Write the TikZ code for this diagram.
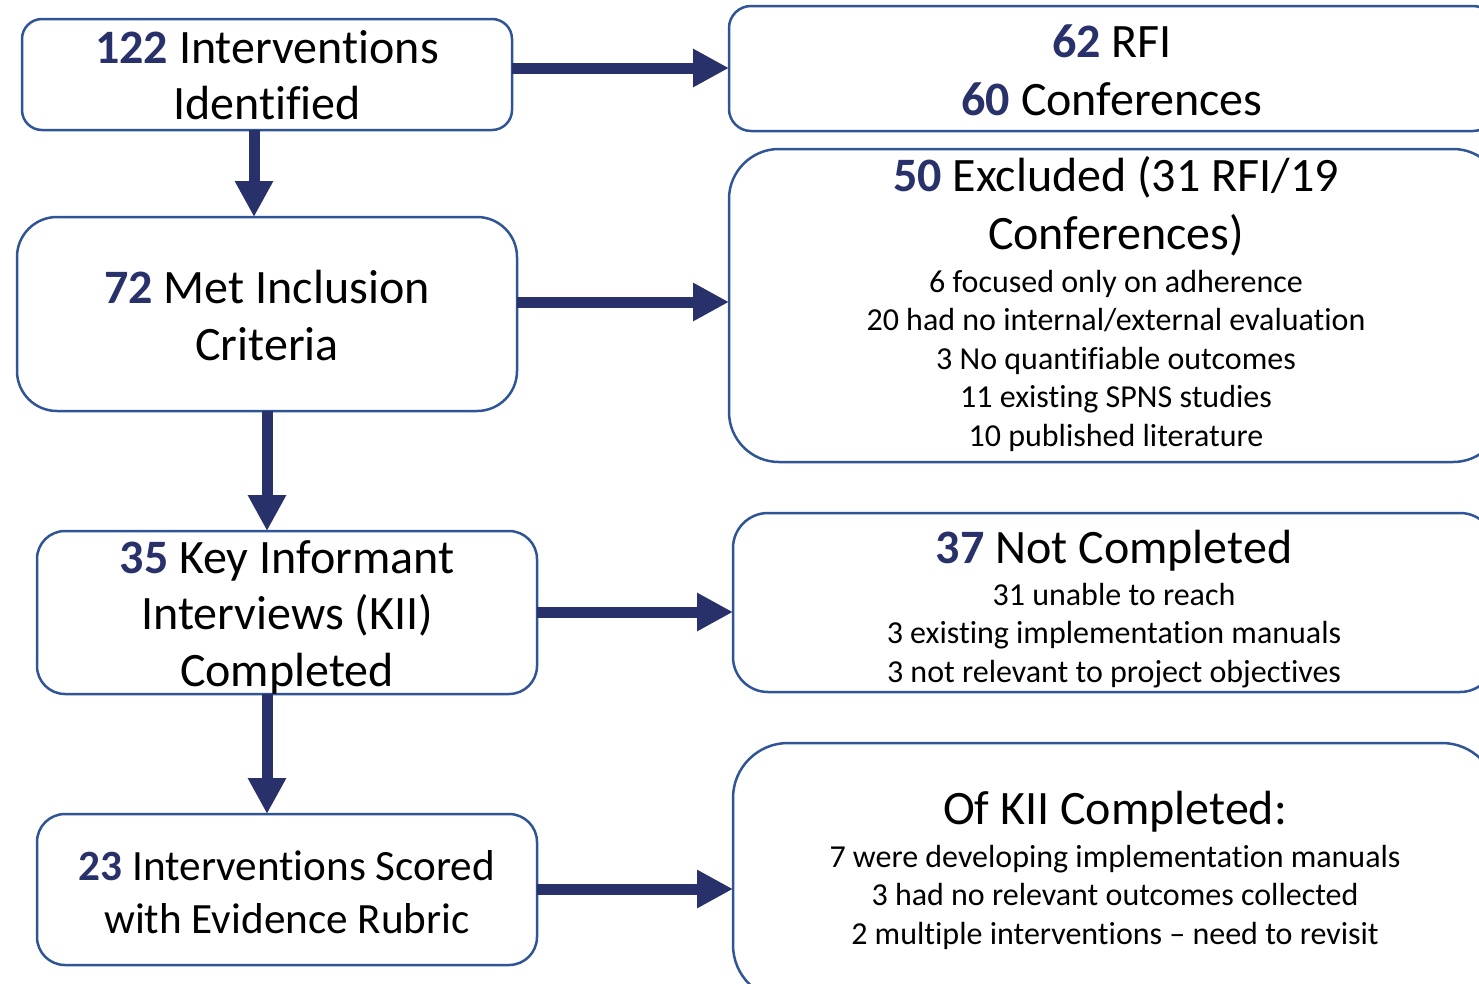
\documentclass[tikz,border=0pt]{standalone}
\usepackage{fontspec}
\setmainfont{Carlito}[Ligatures={TeX,NoCommon}]
\usetikzlibrary{arrows.meta}
\definecolor{boxblue}{HTML}{2F5597}
\definecolor{navy}{HTML}{283169}
\newcommand{\nm}[1]{\textbf{\textcolor{navy}{#1}}}
\newcommand{\bigf}{\fontsize{48}{56}\selectfont}
\newcommand{\smf}{\fontsize{32}{38.5}\selectfont}
\tikzset{
  box/.style={draw=boxblue, line width=2.5pt, fill=white, inner sep=0pt, outer sep=0pt, align=center, font=\bigf, text depth=0pt},
  arr/.style={draw=navy, line width=11pt, -{Triangle[width=36pt,length=36pt]}},
}
\begin{document}
\begin{tikzpicture}[x=1pt,y=-1pt]
\useasboundingbox (0,0) rectangle (1479,983);
\clip (0,0) rectangle (1479,983);
% left column
\node[box, rounded corners=20pt, minimum width=490pt, minimum height=111pt, text height=89pt] (b1) at (267,74.5)
  {\nm{122} Interventions\\Identified};
\node[box, rounded corners=40pt, minimum width=500pt, minimum height=194pt, text height=92pt] (b2) at (267,314)
  {\nm{72} Met Inclusion\\[1pt]Criteria};
\node[box, rounded corners=28pt, minimum width=500pt, minimum height=163pt, text height=147pt] (b3) at (287,612.5)
  {\nm{35} Key Informant\\Interviews (KII)\\[0.5pt]Completed};
\node[box, rounded corners=28pt, minimum width=500pt, minimum height=151pt, text height=88pt, font=\fontsize{43.2}{53}\selectfont] (b4) at (287,889.5)
  {\nm{23} Interventions Scored\\with Evidence Rubric};
% right column
\node[box, rounded corners=22pt, minimum width=766pt, minimum height=125pt, text height=93pt] (r1) at (1112,68.5)
  {\nm{62} RFI\\[2pt]\nm{60} Conferences};
\node[box, rounded corners=50pt, minimum width=774pt, minimum height=313pt, text height=281pt] (r2) at (1116,305.5)
  {\nm{50} Excluded (31 RFI/19\\[2pt]Conferences)\\[-13pt]
   {\smf 6 focused only on adherence}\\[-17.5pt]
   {\smf 20 had no internal/external evaluation}\\[-17.5pt]
   {\smf 3 No quantifiable outcomes}\\[-17.5pt]
   {\smf 11 existing SPNS studies}\\[-17.5pt]
   {\smf 10 published literature}};
\node[box, rounded corners=35pt, minimum width=762pt, minimum height=179pt, text height=159pt] (r3) at (1114,602.5)
  {\nm{37} Not Completed\\[-14pt]
   {\smf 31 unable to reach}\\[-17.5pt]
   {\smf 3 existing implementation manuals}\\[-17.5pt]
   {\smf 3 not relevant to project objectives}};
\node[box, rounded corners=55pt, minimum width=764pt, minimum height=257pt, text height=145pt] (r4) at (1115,871.5)
  {Of KII Completed:\\[-13pt]
   {\smf 7 were developing implementation manuals}\\[-17.5pt]
   {\smf 3 had no relevant outcomes collected}\\[-17.5pt]
   {\smf 2 multiple interventions \textendash{} need to revisit}};
% arrows
\draw[arr] (b1.east |- 0,68) -- (r1.west |- 0,68);
\draw[arr] (b2.east |- 0,302) -- (r2.west |- 0,302);
\draw[arr] (b3.east |- 0,612) -- (r3.west |- 0,612);
\draw[arr] (b4.east |- 0,889) -- (r4.west |- 0,889);
\draw[arr] (254,0 |- b1.south) -- (254,0 |- b2.north);
\draw[arr] (267,0 |- b2.south) -- (267,0 |- b3.north);
\draw[arr] (267,0 |- b3.south) -- (267,0 |- b4.north);
\end{tikzpicture}
\end{document}
